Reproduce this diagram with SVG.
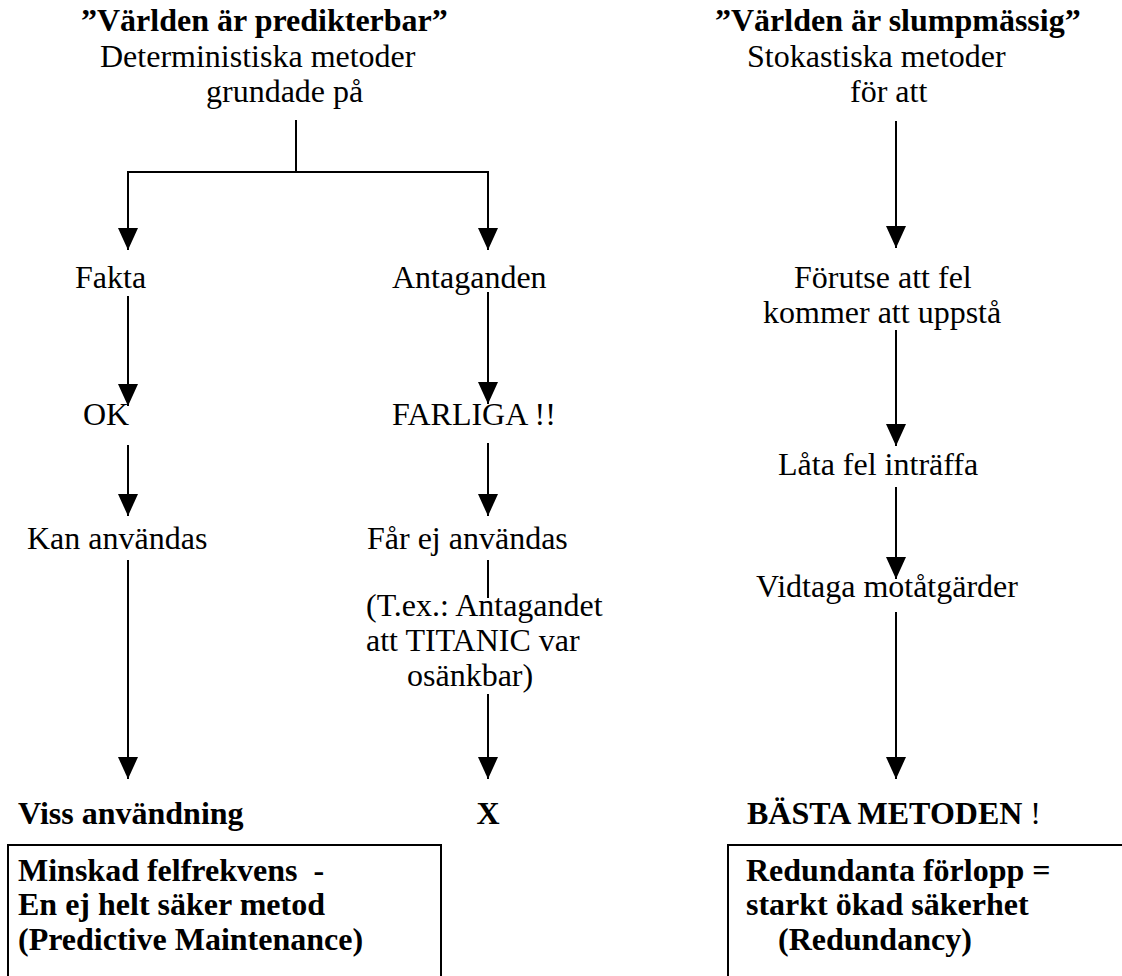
<svg xmlns="http://www.w3.org/2000/svg" width="1122" height="976" viewBox="0 0 1122 976">
  <style>
    text { font-family: "Liberation Serif", "Times New Roman", serif; font-size: 32px; fill: #000; }
    .b { font-weight: bold; }
    .ln { stroke: #000; stroke-width: 2; fill: none; }
    .arr { marker-end: url(#tip); }
    .box { stroke: #000; stroke-width: 2; fill: none; }
  </style>
  <defs>
    <marker id="tip" viewBox="0 0 22 20" refX="22" refY="10" markerWidth="22" markerHeight="20" markerUnits="userSpaceOnUse" orient="auto">
      <path d="M0,0 L22,10 L0,20 z" fill="#000"/>
    </marker>
  </defs>
  <rect width="1122" height="976" fill="#fff"/>

  <!-- Connectors -->
  <g id="connectors">
    <!-- deterministic branch -->
    <line class="ln" x1="296" y1="120" x2="296" y2="172"/>
    <line class="ln" x1="127" y1="172" x2="489" y2="172"/>
    <line class="ln arr" x1="128" y1="171" x2="128" y2="250"/>
    <line class="ln arr" x1="488" y1="171" x2="488" y2="250"/>
    <line class="ln arr" x1="128" y1="296" x2="128" y2="406"/>
    <line class="ln arr" x1="488" y1="292" x2="488" y2="404"/>
    <line class="ln arr" x1="128" y1="445" x2="128" y2="516"/>
    <line class="ln arr" x1="488" y1="443" x2="488" y2="516"/>
    <line class="ln arr" x1="128" y1="560" x2="128" y2="779"/>
    <line class="ln" x1="488" y1="560" x2="488" y2="598"/>
    <line class="ln arr" x1="488" y1="694" x2="488" y2="779"/>
    <!-- stochastic branch -->
    <line class="ln arr" x1="896" y1="121" x2="896" y2="248"/>
    <line class="ln arr" x1="896" y1="330" x2="896" y2="446"/>
    <line class="ln arr" x1="896" y1="487" x2="896" y2="579"/>
    <line class="ln arr" x1="896" y1="612" x2="896" y2="779"/>
  </g>

  <!-- Left column -->
  <g id="head-left">
    <text class="b" x="81" y="31">”Världen är predikterbar”</text>
    <text x="100" y="67">Deterministiska metoder</text>
    <text x="206" y="102">grundade på</text>
  </g>
  <g id="fakta"><text x="75" y="288">Fakta</text></g>
  <g id="antaganden"><text x="392" y="288">Antaganden</text></g>
  <g id="ok"><text x="83" y="425">OK</text></g>
  <g id="farliga"><text x="392" y="425">FARLIGA !!</text></g>
  <g id="kan-anvandas"><text x="27" y="549">Kan användas</text></g>
  <g id="far-ej-anvandas"><text x="367" y="549">Får ej användas</text></g>
  <g id="exempel">
    <text x="366" y="616">(T.ex.: Antagandet</text>
    <text x="366" y="651">att TITANIC var</text>
    <text x="407" y="686">osänkbar)</text>
  </g>
  <g id="viss-anvandning"><text class="b" x="18" y="824">Viss användning</text></g>
  <g id="x-result"><text class="b" x="488" y="824" text-anchor="middle">X</text></g>
  <g id="box-left">
    <rect class="box" x="8" y="845" width="433" height="200"/>
    <text class="b" x="18" y="881" xml:space="preserve">Minskad felfrekvens  -</text>
    <text class="b" x="18" y="915">En ej helt säker metod</text>
    <text class="b" x="18" y="950">(Predictive Maintenance)</text>
  </g>

  <!-- Right column -->
  <g id="head-right">
    <text class="b" x="715" y="31">”Världen är slumpmässig”</text>
    <text x="747" y="67">Stokastiska metoder</text>
    <text x="850" y="102">för att</text>
  </g>
  <g id="forutse">
    <text x="794" y="288">Förutse att fel</text>
    <text x="763" y="323">kommer att uppstå</text>
  </g>
  <g id="lata-fel"><text x="778" y="475">Låta fel inträffa</text></g>
  <g id="vidtaga"><text x="756" y="597">Vidtaga motåtgärder</text></g>
  <g id="basta"><text x="747" y="824"><tspan class="b">BÄSTA METODEN</tspan> !</text></g>
  <g id="box-right">
    <rect class="box" x="728" y="845" width="450" height="200"/>
    <text class="b" x="746" y="881">Redundanta förlopp =</text>
    <text class="b" x="746" y="915">starkt ökad säkerhet</text>
    <text class="b" x="778" y="950">(Redundancy)</text>
  </g>
</svg>
